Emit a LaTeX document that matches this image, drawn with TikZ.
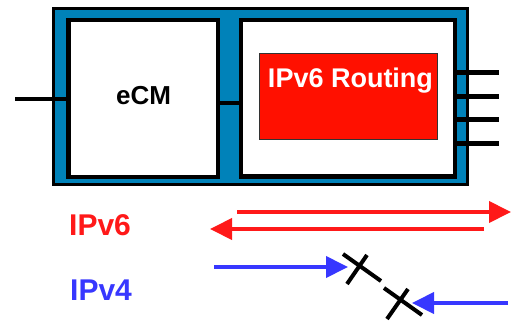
\documentclass[tikz,border=0pt]{standalone}
\usepackage{fontspec}
\setmainfont{Liberation Sans}
\usetikzlibrary{arrows.meta}
\definecolor{boxblue}{RGB}{0,130,185}
\definecolor{routred}{RGB}{255,16,0}
\definecolor{vsixred}{RGB}{255,25,25}
\definecolor{vfourblue}{RGB}{55,55,255}
\tikzset{
  box/.style={draw=black, fill=white, line width=4.5pt, inner sep=0pt},
  wire/.style={draw=black, line width=4.5pt},
  port/.style={draw=black, line width=5pt},
  lbl/.style={font=\bfseries\fontsize{26}{26}\selectfont, inner sep=0pt},
  biglbl/.style={font=\bfseries\fontsize{30}{30}\selectfont, inner sep=0pt, anchor=base west},
  redarrow/.style={draw=vsixred, line width=4pt, -{Triangle[length=22pt,width=21pt]}},
  bluearrow/.style={draw=vfourblue, line width=4pt, -{Triangle[length=22pt,width=21pt]}},
  crossline/.style={draw=black, line width=4pt},
}
\begin{document}
\begin{tikzpicture}[x=1pt,y=-1pt]
\useasboundingbox (0,0) rectangle (515,322);
% outer chassis
\node[draw=black, fill=boxblue, line width=3pt, minimum width=414pt, minimum height=176pt, inner sep=0pt] (outer) at (260,96) {};
% eCM box
\node[box, minimum width=149.5pt, minimum height=157pt] (ecm) at (143.25,98.5) {};
\node[lbl] (ecmtext) at (143.5,96) {eCM};
% right box
\node[box, minimum width=214pt, minimum height=156.5pt] (rbox) at (348,98.25) {};
% routing box
\node[draw=black!80, fill=routred, line width=1pt, minimum width=178pt, minimum height=86pt, inner sep=0pt] (route) at (348,96) {};
\node[lbl, text=white, font=\bfseries\fontsize{27}{27}\selectfont, anchor=base] (routetext) at (350.5,87) {IPv6 Routing};
% wires
\coordinate (lend) at (15,99);
\draw[wire] (lend) -- (ecm.west |- lend);
\coordinate (mid) at (230,103);
\draw[wire] (ecm.east |- mid) -- (rbox.west |- mid);
\foreach \y/\n in {72/a,96/b,119/c,143/d}{
  \coordinate (p\n) at (499,\y);
  \draw[port] (rbox.east |- p\n) -- (p\n);
}
% labels
\node[biglbl, text=vsixred] (v6) at (69,235) {IPv6};
\node[biglbl, text=vfourblue] (v4) at (70,300) {IPv4};
% IPv6 arrows
\coordinate (r1s) at (237,212);
\coordinate (r1e) at (511,212);
\coordinate (r2s) at (484,229);
\coordinate (r2e) at (210,229);
\draw[redarrow] (r1s) -- (r1e);
\draw[redarrow] (r2s) -- (r2e);
% IPv4 arrows
\coordinate (b1s) at (214,267);
\coordinate (b1e) at (348,267);
\coordinate (b2s) at (508,303);
\coordinate (b2e) at (412,303);
\draw[bluearrow] (b1s) -- (b1e);
\draw[bluearrow] (b2s) -- (b2e);
% broken crosses
\coordinate (c1a) at (343,254);
\coordinate (c1b) at (381,281);
\coordinate (c1c) at (367,255);
\coordinate (c1d) at (347,284);
\coordinate (c2a) at (384,288);
\coordinate (c2b) at (422,315);
\coordinate (c2c) at (408,289);
\coordinate (c2d) at (387,319);
\draw[crossline] (c1a) -- (c1b);
\draw[crossline] (c1c) -- (c1d);
\draw[crossline] (c2a) -- (c2b);
\draw[crossline] (c2c) -- (c2d);
\end{tikzpicture}
\end{document}
